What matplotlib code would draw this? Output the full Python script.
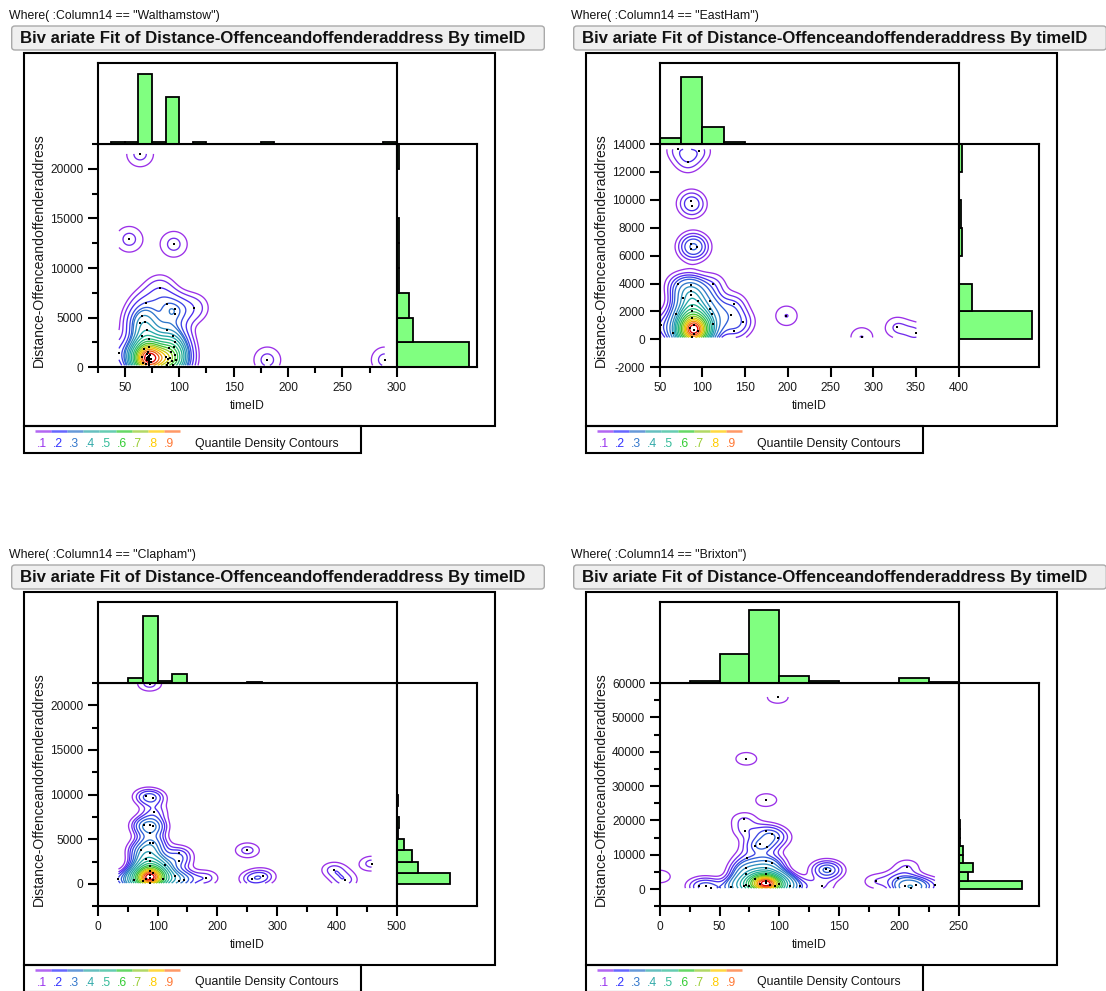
import numpy as np
import matplotlib
matplotlib.use("Agg")
import matplotlib.pyplot as plt
from matplotlib.patches import Rectangle, FancyBboxPatch
from matplotlib.colors import LinearSegmentedColormap
from matplotlib.ticker import MultipleLocator

plt.rcParams["font.family"] = ["Liberation Sans", "DejaVu Sans"]
plt.rcParams["axes.unicode_minus"] = False

W, H = 1106, 991

# ---------------- data ----------------
# Walthamstow
WAL_X = [44.6, 54, 64, 82, 95, 114, 181, 289,
         72, 72, 72, 72, 72, 72, 72, 70, 70, 70, 71, 74, 74, 67, 66, 68, 72, 73, 69, 71,
         64, 68.5, 70.6, 72, 66, 69, 66,
         88, 91.5, 93.6, 94.3, 90, 92, 95, 96, 89, 97, 90, 91,
         89, 96, 94, 88.5, 96, 96]
WAL_Y = [1470, 12900, 21500, 7960, 12400, 6000, 750, 750,
         200, 400, 600, 800, 900, 1000, 1100, 700, 900, 1300, 1500, 500, 800, 460, 1000, 1800, 2000, 1200, 300, 1070,
         4500, 4560, 3760, 2900, 3200, 6450, 5200,
         1070, 900, 640, 260, 400, 1500, 2000, 1200, 200, 700, 800, 1900,
         3730, 2520, 3200, 6350, 5840, 5400]
WAL_W = [1] * len(WAL_X)
WAL_XCOUNTS = [0, 1, 1, 28, 1, 19, 0, 1, 0, 0, 0, 0, 1, 0, 0, 0, 0, 0, 0, 0, 0, 1]
WAL_YCOUNTS = [35, 8, 6, 1, 1, 1, 0, 0, 1]

# East Ham
EAS_X = [71.7, 96.2, 82.7, 88, 87, 87.2, 94.2, 87.2, 70.9, 87.2, 112.6, 87.2, 87.2, 77.8,
         95.4, 109.3, 109.3, 137.1, 133, 147.3, 69.6, 111.7, 112.6, 137, 65.5, 51,
         88, 88, 88, 90, 90, 90, 88, 95, 85, 198.4, 286.3, 327.2, 350.5]
EAS_Y = [13620, 13525, 12690, 9530, 9900, 6800, 6630, 6490, 3945, 3900, 3945, 3470, 3160, 3000,
         2760, 2760, 2160, 2570, 1780, 1280, 1800, 1800, 1090, 620, 430, 1000,
         2400, 2000, 1500, 1000, 700, 400, 150, 600, 800, 1690, 140, 860, 430]
EAS_W = [1, 1, 1, 1, 1, 1, 1, 1, 1, 1, 1, 2, 2, 1,
         1, 1, 1, 1, 1, 1, 1, 1, 2, 1, 1, 1,
         2, 3, 5, 8, 12, 8, 4, 4, 3, 1, 1, 1, 1]
EAS_XCOUNTS = [5, 60, 15, 2, 0, 0, 0, 0, 0, 0, 0, 0, 0, 0]
EAS_YCOUNTS = [0, 66, 12, 0, 3, 2, 0, 3]

# Clapham
CLA_X = [86.8, 80.8, 92.8, 94.6, 77.8, 86.8, 92.8, 86.8, 86.8, 92.8, 71.9, 86.8, 135.9, 135.9,
         112, 80, 86.8, 86.8, 86.8, 86.8, 86.8, 92, 80, 92, 75, 86.8, 34.7, 135.9, 143.7, 130,
         180.8, 110, 60, 250.3, 257.5, 277.2, 395.2, 413.2, 458]
CLA_Y = [22420, 9810, 9630, 8020, 6640, 6570, 6500, 5710, 4590, 4550, 3840, 3500, 3470, 2540,
         2160, 2800, 2600, 2000, 1500, 1000, 700, 500, 600, 1200, 300, 100, 560, 300, 490, 900,
         670, 600, 400, 3770, 560, 860, 1600, 410, 2280]
CLA_W = [1, 1, 1, 1, 1, 1, 1, 1, 1, 1, 1, 2, 1, 1,
         1, 1, 2, 3, 4, 6, 10, 6, 4, 3, 2, 2, 1, 1, 1, 1,
         1, 2, 1, 1, 1, 1, 1, 1, 1]
CLA_XCOUNTS = [0, 0, 8, 103, 3, 14, 0, 0, 0, 0, 2, 0, 0, 0, 0, 0, 0, 0, 0, 0]
CLA_YCOUNTS = [0, 0, 70, 28, 20, 9, 2, 3, 1, 2, 0, 0, 0, 0, 0, 0, 0, 0, 0, 1]

# Brixton
BRI_X = [98.7, 72.4, 89.1, 70.4, 71.6, 88.5, 94.3, 98.7, 79.7, 84.1, 90, 73, 88.5, 94.3,
         72.4, 88.5, 72.4, 88.5, 80, 88.5, 88.5, 92, 84, 72.4, 96, 100,
         0, 33, 38.3, 43.2, 59.3, 70.4, 74.8, 108.9, 117.7, 135.8, 139, 142,
         180.5, 198.9, 206.8, 205.3, 209.7, 214, 230.1]
BRI_Y = [55935, 37935, 25935, 20320, 16935, 16935, 16060, 14800, 12580, 13160, 12390, 9000, 8320, 7550,
         6100, 6100, 4500, 4500, 3000, 2500, 1700, 1300, 1500, 1200, 900, 1500,
         3680, 770, 970, 290, 480, 770, 770, 770, 770, 770, 5800, 5300,
         2230, 3190, 6580, 770, 290, 1060, 1060]
BRI_W = [1, 1, 1, 1, 1, 1, 1, 1, 1, 1, 1, 1, 1, 1,
         2, 2, 2, 3, 3, 6, 20, 15, 10, 5, 5, 3,
         1, 1, 1, 1, 1, 2, 2, 1, 1, 1, 2, 1,
         1, 1, 1, 2, 2, 2, 1]
BRI_XCOUNTS = [0, 3, 47, 118, 11, 3, 0, 0, 8, 2]
BRI_YCOUNTS = [0, 0, 120, 18, 28, 8, 8, 3, 3, 2, 1, 0, 1, 0, 0, 0, 0, 1, 0, 0, 0, 0, 0, 0, 1, 0]

PANELS = [
    dict(name="Walthamstow", x=WAL_X, y=WAL_Y, w=WAL_W, xc=WAL_XCOUNTS, yc=WAL_YCOUNTS,
         xlim=(25, 300), ylim=(0, 22500), xmaj=50, xmin=25, ymaj=5000, ymin=2500,
         xbin=(25, 12.5), ybin=(0, 2500), top_max=32.7, right_max=38.8,
         bw=(10.0, 1050), off=(0, 0)),
    dict(name="EastHam", x=EAS_X, y=EAS_Y, w=EAS_W, xc=EAS_XCOUNTS, yc=EAS_YCOUNTS,
         xlim=(50, 400), ylim=(-2000, 14000), xmaj=50, xmin=None, ymaj=2000, ymin=None,
         xbin=(50, 25), ybin=(-2000, 2000), top_max=72.5, right_max=72.9,
         bw=(11.5, 640), off=(562, 0)),
    dict(name="Clapham", x=CLA_X, y=CLA_Y, w=CLA_W, xc=CLA_XCOUNTS, yc=CLA_YCOUNTS,
         xlim=(0, 500), ylim=(-2500, 22500), xmaj=100, xmin=50, ymaj=5000, ymin=2500,
         xbin=(0, 25), ybin=(-2500, 1250), top_max=125.6, right_max=106.5,
         bw=(16.5, 680), off=(0, 539)),
    dict(name="Brixton", x=BRI_X, y=BRI_Y, w=BRI_W, xc=BRI_XCOUNTS, yc=BRI_YCOUNTS,
         xlim=(0, 250), ylim=(-5000, 60000), xmaj=50, xmin=25, ymaj=10000, ymin=5000,
         xbin=(0, 25), ybin=(-5000, 2500), top_max=130.9, right_max=154,
         bw=(8.8, 1850), off=(562, 539)),
]

QUANTILES = np.round(np.arange(0.05, 0.951, 0.05), 2)
LEGEND_LABELS = [".1", ".2", ".3", ".4", ".5", ".6", ".7", ".8", ".9"]
LEGEND_COLORS = ["#9933ee", "#3333ff", "#3377cc", "#33aaaa", "#33bb99",
                 "#33cc33", "#99cc33", "#ffcc00", "#ff7733"]

CONTOUR_CMAP = LinearSegmentedColormap.from_list("qdc", [
    (0.00, "#9b30e8"), (0.11, "#4b2cf0"), (0.22, "#2f5fd8"), (0.33, "#2f8fbf"),
    (0.44, "#21a8a8"), (0.55, "#25b880"), (0.66, "#3fc22f"), (0.74, "#a8cc22"),
    (0.83, "#f0c800"), (0.92, "#f58220"), (1.00, "#e00000")])

BAR_GREEN = "#80ff80"
LW = 1.5

fig = plt.figure(figsize=(W / 100, H / 100), dpi=100)
renderer = fig.canvas.get_renderer()


def add_ax(x0, y0, x1, y1):
    return fig.add_axes([x0 / W, 1 - y1 / H, (x1 - x0) / W, (y1 - y0) / H])


def fig_rect(x0, y0, x1, y1, **kw):
    r = Rectangle((x0 / W, 1 - y1 / H), (x1 - x0) / W, (y1 - y0) / H,
                  transform=fig.transFigure, **kw)
    fig.add_artist(r)
    return r


def fig_text(x, y, s, **kw):
    return fig.text(x / W, 1 - y / H, s, **kw)


def fit_size(t, target, vertical=False):
    bb = t.get_window_extent(renderer)
    size = bb.height if vertical else bb.width
    return t.get_fontsize() * target / size


def kde_grid(x, y, w, hx, hy, n=220):
    x = np.asarray(x, float)
    y = np.asarray(y, float)
    w = np.asarray(w, float)
    gx = np.linspace(x.min(), x.max(), n)
    gy = np.linspace(y.min(), y.max(), n)
    GX, GY = np.meshgrid(gx, gy)
    dx = (GX[..., None] - x) / hx
    dy = (GY[..., None] - y) / hy
    F = (w * np.exp(-0.5 * (dx ** 2 + dy ** 2))).sum(-1) / (w.sum() * 2 * np.pi * hx * hy)
    return GX, GY, F


def quantile_levels(F, qs):
    v = np.sort(F.ravel())[::-1]
    c = np.cumsum(v)
    c /= c[-1]
    return np.array([v[min(np.searchsorted(c, 1 - q), len(v) - 1)] for q in qs])


def frame_axes(ax):
    for s in ax.spines.values():
        s.set_linewidth(LW)
        s.set_color("black")


# sizes of shared texts, measured once
probe = fig_text(0, 0, 'Where( :Column14 == "Walthamstow")', fontsize=8)
WHERE_SIZE = fit_size(probe, 212)
probe.remove()
TITLE = "Biv ariate Fit of Distance-Offenceandoffenderaddress By timeID"
probe = fig_text(0, 0, TITLE, fontsize=10, fontweight="bold")
TITLE_SIZE = fit_size(probe, 506)
probe.remove()
YLABEL = "Distance-Offenceandoffenderaddress"
probe = fig_text(0, 0, YLABEL, fontsize=9)
YLABEL_SIZE = fit_size(probe, 233)
probe.remove()
LEGTXT = "Quantile Density Contours"
probe = fig_text(0, 0, LEGTXT, fontsize=8)
LEG_SIZE = fit_size(probe, 145)
probe.remove()

for p in PANELS:
    ox, oy = p["off"]

    # header
    fig_text(ox + 9.3, oy + 16, 'Where( :Column14 == "%s")' % p["name"],
             fontsize=WHERE_SIZE, va="center", ha="left", color="#111111")
    box = FancyBboxPatch(((ox + 11.7) / W, 1 - (oy + 50) / H), 532.6 / W, 24 / H,
                         boxstyle="round,pad=0,rounding_size=0.003",
                         transform=fig.transFigure, fc="#efefef", ec="#a9a9a9", lw=1.0)
    fig.add_artist(box)
    fig_text(ox + 20, oy + 38.5, TITLE, fontsize=TITLE_SIZE, fontweight="bold",
             va="center", ha="left", color="#111111")

    # outer frame and legend box
    fig_rect(ox + 24.3, oy + 53.3, ox + 495, oy + 425.7, fill=False, ec="black", lw=LW)
    fig_rect(ox + 24.3, oy + 425.7, ox + 361, oy + 452.7, fill=False, ec="black", lw=LW)

    # main scatter with density contours
    ax = add_ax(ox + 97.7, oy + 144, ox + 396.7, oy + 367.3)
    frame_axes(ax)
    GX, GY, F = kde_grid(p["x"], p["y"], p["w"], *p["bw"])
    levels = quantile_levels(F, QUANTILES)
    ax.contour(GX, GY, F, levels=levels,
               colors=[CONTOUR_CMAP((q - 0.05) / 0.9) for q in QUANTILES],
               linewidths=0.95)
    ax.scatter(p["x"], p["y"], s=2.4, c="black", marker="s", linewidths=0, zorder=5)
    ax.set_xlim(*p["xlim"])
    ax.set_ylim(*p["ylim"])
    ax.xaxis.set_major_locator(MultipleLocator(p["xmaj"]))
    ax.yaxis.set_major_locator(MultipleLocator(p["ymaj"]))
    if p["xmin"]:
        ax.xaxis.set_minor_locator(MultipleLocator(p["xmin"]))
    if p["ymin"]:
        ax.yaxis.set_minor_locator(MultipleLocator(p["ymin"]))
    ax.tick_params(which="major", direction="out", length=7.5, width=LW,
                   labelsize=8.6, pad=3, colors="black", labelcolor="#1a1a1a")
    ax.tick_params(which="minor", direction="out", length=4, width=LW, colors="black")
    ax.tick_params(top=False, right=False)

    # marginal histogram of timeID
    axt = add_ax(ox + 97.7, oy + 62.7, ox + 396.7, oy + 144)
    frame_axes(axt)
    x0, xw = p["xbin"]
    for i, c in enumerate(p["xc"]):
        if c > 0:
            axt.bar(x0 + i * xw, c, width=xw, align="edge", color=BAR_GREEN,
                    edgecolor="black", linewidth=1.3)
    axt.set_xlim(*p["xlim"])
    axt.set_ylim(0, p["top_max"])
    axt.set_xticks([])
    axt.set_yticks([])

    # marginal histogram of distance
    axr = add_ax(ox + 396.7, oy + 144, ox + 477.3, oy + 367.3)
    frame_axes(axr)
    y0, yw = p["ybin"]
    for i, c in enumerate(p["yc"]):
        if c > 0:
            axr.barh(y0 + i * yw, c, height=yw, align="edge", color=BAR_GREEN,
                     edgecolor="black", linewidth=1.3)
    axr.set_ylim(*p["ylim"])
    axr.set_xlim(0, p["right_max"])
    axr.set_xticks([])
    axr.set_yticks([])

    # axis titles
    fig_text(ox + 39.3, oy + 250.5, YLABEL, fontsize=YLABEL_SIZE, rotation=90,
             va="center", ha="center", color="#1a1a1a")
    fig_text(ox + 247.2, oy + 406, "timeID", fontsize=8.7, va="center", ha="center",
             color="#1a1a1a")

    # contour legend
    bar_x = np.linspace(35, 180, len(LEGEND_COLORS) + 1)
    for i, col in enumerate(LEGEND_COLORS):
        fig.add_artist(plt.Line2D([(ox + bar_x[i]) / W, (ox + bar_x[i + 1]) / W],
                                  [1 - (oy + 430.8) / H] * 2, color=col, lw=1.8,
                                  alpha=0.75, transform=fig.transFigure,
                                  solid_capstyle="butt"))
    for i, (lab, col) in enumerate(zip(LEGEND_LABELS, LEGEND_COLORS)):
        fig_text(ox + 42 + i * 15.9, oy + 444.3, lab, fontsize=8.7, color=col,
                 va="center", ha="center")
    fig_text(ox + 195, oy + 443.5, LEGTXT, fontsize=LEG_SIZE, va="center", ha="left",
             color="#111111")

fig.savefig("out.png", dpi=100)
